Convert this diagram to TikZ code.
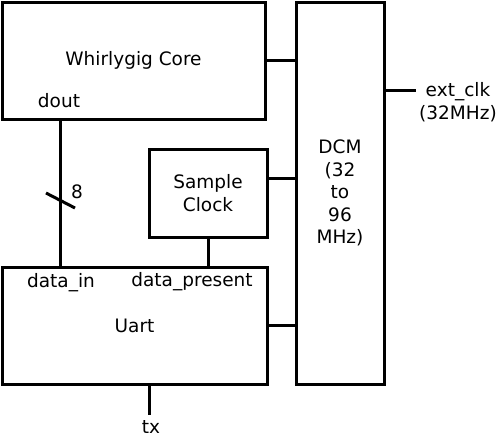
\documentclass[tikz,border=0pt]{standalone}
\usepackage{fontspec}
\setmainfont{DejaVu Sans}
\tikzset{
    block/.style={draw, line width=3pt, inner sep=0pt, align=center},
    wire/.style={line width=3pt},
    lbl/.style={inner sep=0pt, align=center}
}
\begin{document}
\begin{tikzpicture}[x=1pt, y=-1pt, font=\fontsize{18.5}{22.5}\selectfont]
        \useasboundingbox (0,0) rectangle (500,439);
        \node[block, minimum width=263pt, minimum height=117pt] (core) at (133.5,60.5) {Whirlygig Core};
        \node[block, minimum width=118pt, minimum height=88pt] (clk) at (208,193) {Sample\\Clock};
        \node[block, minimum width=265pt, minimum height=117pt] (uart) at (134.5,325.5) {Uart};
        \node[block, minimum width=88pt, minimum height=382pt] (dcm) at (340,193) {DCM\\(32\\to\\96\\MHz)};
        \node[lbl] (dout) at (59,101) {dout};
        \node[lbl] (datain) at (61,283) {data\_in};
        \node[lbl] (present) at (192,282) {data\_present};
        \node[lbl] (width) at (77,192) {8};
        \node[lbl] (ext) at (458,102) {ext\_clk\\(32MHz)};
        \node[lbl] (tx) at (151,427) {tx};
        % clock lines into the DCM
        \draw[wire] (core.east) -- (core.east -| dcm.west);
        \draw[wire] (clk.east |- 0,178) -- (dcm.west |- 0,178);
        \draw[wire] (uart.east) -- (uart.east -| dcm.west);
        \draw[wire] (dcm.east |- 0,90) -- ++(30,0) coordinate (extin);
        % data bus
        \draw[wire] (core.south -| 60,0) -- (uart.north -| 60,0);
        \draw[wire] (46,193) -- (75,208);
        \draw[wire] (clk.south) -- (clk.south |- uart.north);
        \draw[wire] (uart.south -| 149,0) -- ++(0,29) coordinate (txout);
    \end{tikzpicture}
\end{document}
